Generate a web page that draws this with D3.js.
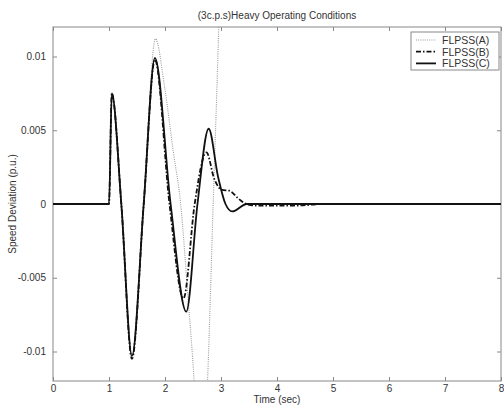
<!DOCTYPE html>
<html><head><meta charset="utf-8">
<script src="https://cdn.jsdelivr.net/npm/d3@7"></script>
<style>
body{margin:0;background:#fff;}
text{font-family:"Liberation Sans",Arial,sans-serif;fill:#333;}
</style></head>
<body><svg id="c" width="504" height="405"></svg>
<script>
// Data (time in sec, speed deviation in p.u.)
const tA = [0, 1.0, 1.05, 1.22, 1.41, 1.62, 1.83, 1.99, 2.15, 2.28, 2.41, 2.52, 2.64, 2.76, 2.86, 2.96, 3.05];
const vA = [0, 0, 0.0075, 0, -0.0104, 0, 0.0112, 0.008, 0.0035, 0, -0.0063, -0.012, -0.021, -0.012, 0, 0.012, 0.025];
const tB = [0, 1.0, 1.05, 1.22, 1.41, 1.62, 1.82, 2.08, 2.33, 2.53, 2.74, 2.88, 3.02, 3.15, 3.3, 3.45, 3.6, 4.4, 4.8, 8];
const vB = [0, 0, 0.0075, 0, -0.0105, 0, 0.0098, 0, -0.0064, 0, 0.0035, 0.0017, 0.00095, 0.0009, 0.0004, 0, -0.0001, -0.0001, 0, 0];
const tC = [0, 1.0, 1.05, 1.22, 1.41, 1.62, 1.82, 2.10, 2.38, 2.58, 2.78, 2.95, 3.08, 3.20, 3.46, 8];
const vC = [0, 0, 0.0075, 0, -0.0103, 0, 0.0099, 0, -0.0073, 0, 0.0051, 0.0018, 0, -0.0005, 0, 0];
const xTicks = [0, 1, 2, 3, 4, 5, 6, 7, 8];
const yTicks = [-0.01, -0.005, 0, 0.005, 0.01];
const seriesNames = ["FLPSS(A)", "FLPSS(B)", "FLPSS(C)"];

const svg = d3.select("#c");
const L = 53, R = 501, T = 27, B = 381;
const x = d3.scaleLinear().domain([0, 8]).range([L, R]);
const y = d3.scaleLinear().domain([-0.012, 0.012]).range([B, T]);

svg.append("defs").append("clipPath").attr("id", "clip")
  .append("rect").attr("x", L).attr("y", T).attr("width", R - L).attr("height", B - T);

const axisColor = "#888";
svg.append("rect").attr("x", L).attr("y", T).attr("width", R - L).attr("height", B - T)
  .attr("fill", "none").attr("stroke", axisColor).attr("stroke-width", 1);

const fmt = d => d === 0 ? "0" : String(d);
const gx = svg.append("g").attr("transform", `translate(0,${B})`)
  .call(d3.axisBottom(x).tickValues(xTicks).tickSize(-4).tickPadding(4).tickFormat(fmt));
const gxt = svg.append("g").attr("transform", `translate(0,${T})`)
  .call(d3.axisTop(x).tickValues(xTicks).tickSize(-4).tickFormat(""));
const gy = svg.append("g").attr("transform", `translate(${L},0)`)
  .call(d3.axisLeft(y).tickValues(yTicks).tickSize(-4).tickPadding(7).tickFormat(fmt));
const gyr = svg.append("g").attr("transform", `translate(${R},0)`)
  .call(d3.axisRight(y).tickValues(yTicks).tickSize(-4).tickFormat(""));
[gx, gxt, gy, gyr].forEach(g => {
  g.select(".domain").remove();
  g.selectAll(".tick line").attr("stroke", axisColor);
  g.selectAll("text").attr("font-size", 10).attr("fill", "#333")
    .style("font-family", '"Liberation Sans",Arial,sans-serif');
});

const line = d3.line().x(d => x(d[0])).y(d => y(d[1])).curve(d3.curveMonotoneX);
const gL = svg.append("g").attr("clip-path", "url(#clip)");
const styles = [
  {t: tA, v: vA, stroke: "#9a9a9a", w: 1.1, dash: "1,1.2"},
  {t: tB, v: vB, stroke: "#111", w: 1.8, dash: "5,2,1.5,2"},
  {t: tC, v: vC, stroke: "#111", w: 1.8, dash: null}
];
styles.forEach(s => {
  gL.append("path").datum(s.t.map((t, i) => [t, s.v[i]]))
    .attr("d", line).attr("fill", "none").attr("stroke", s.stroke)
    .attr("stroke-width", s.w).attr("stroke-dasharray", s.dash);
});

svg.append("text").attr("x", (L + R) / 2).attr("y", 18.5).attr("text-anchor", "middle")
  .attr("font-size", 10).text("(3c.p.s)Heavy Operating Conditions");
svg.append("text").attr("x", (L + R) / 2).attr("y", 402.5).attr("text-anchor", "middle")
  .attr("font-size", 10).text("Time (sec)");
svg.append("text").attr("transform", `translate(16,${(T + B) / 2}) rotate(-90)`)
  .attr("text-anchor", "middle").attr("font-size", 10).text("Speed Deviation (p.u.)");

const lg = svg.append("g");
lg.append("rect").attr("x", 411).attr("y", 32).attr("width", 88).attr("height", 38)
  .attr("fill", "#fff").attr("stroke", axisColor).attr("stroke-width", 1);
styles.forEach((s, i) => {
  const yy = 40 + i * 11.7;
  lg.append("line").attr("x1", 416).attr("x2", 436).attr("y1", yy).attr("y2", yy)
    .attr("stroke", s.stroke).attr("stroke-width", s.w).attr("stroke-dasharray", s.dash);
  lg.append("text").attr("x", 442).attr("y", yy + 3.8).attr("font-size", 10.5).text(seriesNames[i]);
});
</script></body></html>
